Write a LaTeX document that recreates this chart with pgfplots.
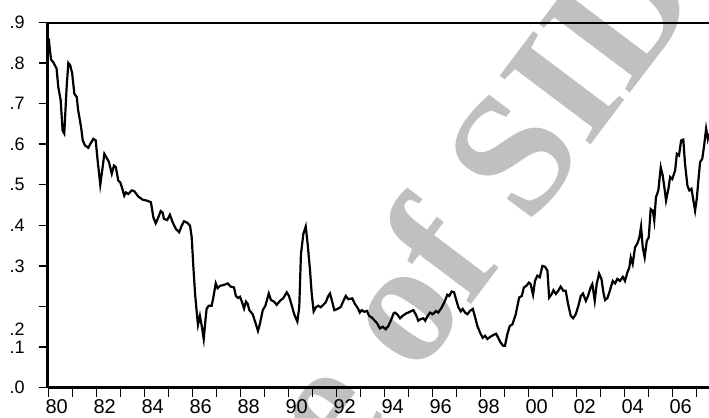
\documentclass[border=0pt]{standalone}
\usepackage{fontspec}
\setmainfont{Liberation Sans}
\newfontfamily\wmfont{Liberation Serif}
\usepackage{pgfplots}
\usepackage{pgfplotstable}
\pgfplotsset{compat=1.18}
\definecolor{wm}{RGB}{192,192,192}
\pgfplotstableread{
x y
1980.00 0.860
1980.10 0.808
1980.19 0.802
1980.33 0.786
1980.40 0.741
1980.50 0.708
1980.58 0.634
1980.65 0.626
1980.75 0.741
1980.82 0.800
1980.90 0.794
1980.98 0.774
1981.07 0.724
1981.17 0.716
1981.23 0.683
1981.35 0.642
1981.42 0.609
1981.51 0.597
1981.65 0.591
1981.76 0.603
1981.86 0.613
1981.96 0.609
1982.04 0.560
1982.15 0.500
1982.23 0.535
1982.32 0.576
1982.42 0.566
1982.51 0.556
1982.63 0.527
1982.72 0.547
1982.80 0.543
1982.90 0.510
1982.98 0.506
1983.07 0.490
1983.15 0.473
1983.22 0.481
1983.32 0.477
1983.46 0.486
1983.57 0.484
1983.73 0.471
1983.92 0.463
1984.08 0.461
1984.26 0.457
1984.36 0.420
1984.46 0.405
1984.57 0.420
1984.67 0.435
1984.75 0.431
1984.80 0.416
1984.94 0.413
1985.05 0.426
1985.17 0.407
1985.30 0.391
1985.44 0.383
1985.54 0.399
1985.64 0.410
1985.78 0.406
1985.89 0.399
1985.96 0.370
1986.03 0.296
1986.10 0.231
1986.17 0.185
1986.22 0.155
1986.30 0.177
1986.39 0.148
1986.46 0.120
1986.53 0.165
1986.58 0.194
1986.67 0.202
1986.79 0.202
1986.86 0.222
1986.96 0.257
1987.04 0.245
1987.14 0.251
1987.30 0.253
1987.46 0.257
1987.58 0.249
1987.72 0.247
1987.80 0.226
1987.89 0.221
1987.97 0.224
1988.05 0.212
1988.14 0.195
1988.22 0.212
1988.29 0.207
1988.36 0.191
1988.50 0.181
1988.61 0.161
1988.72 0.140
1988.80 0.157
1988.92 0.191
1989.03 0.202
1989.17 0.232
1989.26 0.216
1989.39 0.212
1989.50 0.204
1989.64 0.214
1989.78 0.221
1989.92 0.235
1990.01 0.226
1990.13 0.202
1990.23 0.181
1990.36 0.163
1990.44 0.198
1990.51 0.329
1990.61 0.379
1990.71 0.397
1990.79 0.354
1990.89 0.288
1990.96 0.231
1991.04 0.188
1991.13 0.198
1991.23 0.202
1991.33 0.198
1991.44 0.204
1991.54 0.210
1991.65 0.226
1991.72 0.232
1991.82 0.210
1991.90 0.191
1992.04 0.194
1992.17 0.199
1992.28 0.214
1992.38 0.226
1992.48 0.218
1992.65 0.220
1992.76 0.206
1992.88 0.196
1992.96 0.185
1993.04 0.191
1993.15 0.187
1993.26 0.189
1993.35 0.177
1993.46 0.173
1993.57 0.166
1993.68 0.159
1993.80 0.146
1993.92 0.150
1994.04 0.144
1994.15 0.152
1994.26 0.166
1994.37 0.183
1994.43 0.185
1994.53 0.180
1994.64 0.171
1994.75 0.177
1994.89 0.183
1994.98 0.185
1995.08 0.188
1995.19 0.191
1995.30 0.180
1995.40 0.165
1995.50 0.169
1995.61 0.171
1995.69 0.165
1995.77 0.175
1995.89 0.185
1996.00 0.181
1996.14 0.189
1996.23 0.185
1996.38 0.198
1996.51 0.214
1996.61 0.229
1996.69 0.226
1996.79 0.237
1996.89 0.235
1996.97 0.218
1997.07 0.198
1997.17 0.188
1997.25 0.194
1997.35 0.185
1997.44 0.181
1997.55 0.189
1997.67 0.194
1997.76 0.175
1997.86 0.152
1997.97 0.136
1998.08 0.123
1998.18 0.128
1998.28 0.120
1998.39 0.125
1998.53 0.130
1998.64 0.133
1998.73 0.123
1998.83 0.111
1998.94 0.103
1999.01 0.103
1999.11 0.132
1999.21 0.152
1999.32 0.156
1999.46 0.181
1999.60 0.222
1999.71 0.226
1999.80 0.247
1999.90 0.251
2000.01 0.259
2000.08 0.255
2000.18 0.229
2000.26 0.263
2000.36 0.276
2000.46 0.272
2000.57 0.300
2000.68 0.298
2000.78 0.288
2000.85 0.222
2000.96 0.231
2001.03 0.240
2001.13 0.231
2001.23 0.239
2001.33 0.249
2001.44 0.239
2001.54 0.239
2001.64 0.206
2001.75 0.177
2001.85 0.171
2001.96 0.181
2002.07 0.202
2002.17 0.226
2002.26 0.232
2002.38 0.214
2002.47 0.226
2002.58 0.247
2002.65 0.255
2002.75 0.214
2002.83 0.255
2002.93 0.281
2003.03 0.268
2003.11 0.235
2003.18 0.216
2003.28 0.221
2003.38 0.239
2003.50 0.263
2003.60 0.257
2003.69 0.268
2003.80 0.263
2003.92 0.273
2004.01 0.263
2004.11 0.284
2004.19 0.296
2004.25 0.321
2004.33 0.305
2004.43 0.346
2004.53 0.356
2004.61 0.370
2004.68 0.397
2004.75 0.346
2004.83 0.321
2004.92 0.362
2005.00 0.370
2005.08 0.440
2005.17 0.436
2005.23 0.412
2005.30 0.469
2005.40 0.486
2005.50 0.543
2005.58 0.523
2005.65 0.494
2005.72 0.461
2005.82 0.490
2005.89 0.519
2005.98 0.514
2006.10 0.535
2006.17 0.576
2006.26 0.572
2006.35 0.609
2006.44 0.611
2006.51 0.552
2006.61 0.498
2006.69 0.486
2006.78 0.490
2006.86 0.461
2006.93 0.436
2007.00 0.465
2007.08 0.519
2007.14 0.556
2007.23 0.564
2007.30 0.593
2007.39 0.638
2007.46 0.613
2007.51 0.626
}\series
\begin{document}
\begin{tikzpicture}
\begin{scope}[every node/.style={rotate=53, text=wm, inner sep=0pt, font=\wmfont\bfseries\fontsize{87}{87}\selectfont}]
\node[anchor=base west] at (208pt,20pt) {of SID};
\node[anchor=base east] at (194.9pt,2.6pt) {Archive};
\end{scope}
\begin{axis}[
  at={(23.85pt,15.15pt)}, anchor=south west,
  scale only axis, width=330.65pt, height=182.7pt,
  xmin=1979.96, xmax=2007.51, ymin=0, ymax=0.9,
  axis lines=left, axis line style={-, line width=1.5pt},
  tick align=outside, major tick length=4.5pt,
  every tick/.style={black, line width=0.7pt},
  xtick={1980,1981,...,2007},
  xticklabels={80,,82,,84,,86,,88,,90,,92,,94,,96,,98,,00,,02,,04,,06,},
  ytick={0,0.1,0.2,0.3,0.4,0.5,0.6,0.7,0.8,0.9},
  yticklabels={.0,.1,,.3,.4,.5,.6,.7,.8,.9},
  extra y ticks={0.145}, extra y tick labels={.2},
  extra y tick style={major tick style={draw=none}},
  xticklabel style={font=\fontsize{10}{11}\selectfont, xshift=4pt, yshift=2pt},
  yticklabel style={font=\fontsize{9}{11}\selectfont, xshift=-3.5pt},
  /pgf/number format/assume math mode=true,
]
\addplot[black, line width=1.1pt] table[x=x, y=y] {\series};
\draw[line width=1.5pt] (rel axis cs:0,1) -- (rel axis cs:1,1);
\end{axis}
\pgfresetboundingbox
\path[use as bounding box] (0,0) rectangle (354.5pt,209pt);
\end{tikzpicture}
\end{document}
